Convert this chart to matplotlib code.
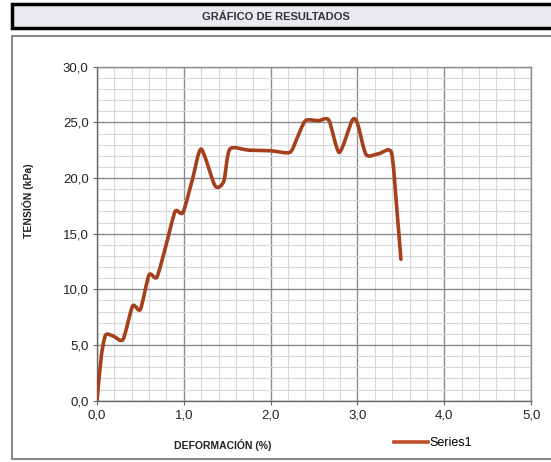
import numpy as np
import matplotlib.pyplot as plt
from matplotlib.path import Path
from matplotlib.patches import PathPatch, Rectangle
from matplotlib.lines import Line2D
from matplotlib.ticker import MultipleLocator, FuncFormatter

plt.rcParams['font.family'] = ['Liberation Sans', 'DejaVu Sans']

# ensayo: deformacion (%) vs tension (kPa)
deformacion = [0.00, 0.05, 0.10, 0.19, 0.30, 0.41, 0.50, 0.60, 0.69, 0.80, 0.90,
               0.99, 1.10, 1.20, 1.36, 1.46, 1.53, 1.75, 2.00, 2.22, 2.30, 2.40,
               2.55, 2.67, 2.79, 2.94, 3.00, 3.10, 3.25, 3.39, 3.45, 3.50]
tension = [0.0, 4.0, 5.9, 5.8, 5.5, 8.5, 8.2, 11.3, 11.1, 14.1, 17.0,
           16.9, 19.9, 22.6, 19.3, 19.7, 22.6, 22.5, 22.45, 22.3, 23.5, 25.15,
           25.15, 25.2, 22.3, 25.2, 24.9, 22.1, 22.2, 22.3, 17.5, 12.7]
serie = 'Series1'
titulo = 'GRÁFICO DE RESULTADOS'
color_linea = '#A5401C'


def smooth_path(xs, ys, k=0.12):
    # curva suavizada (Bezier cubica a partir de los puntos)
    p = np.column_stack([xs, ys]).astype(float)
    n = len(p)
    verts = [p[0]]
    codes = [Path.MOVETO]
    for i in range(n - 1):
        p0 = p[i - 1] if i > 0 else p[i]
        p3 = p[i + 2] if i + 2 < n else p[i + 1]
        c1 = p[i] + (p[i + 1] - p0) * k
        c2 = p[i + 1] - (p3 - p[i]) * k
        verts += [c1, c2, p[i + 1]]
        codes += [Path.CURVE4] * 3
    return Path(verts, codes)


fig = plt.figure(figsize=(5.51, 4.62), dpi=100)

# marco del titulo
fig.patches.append(Rectangle((0.022, 0.939), 1.0, 0.052, transform=fig.transFigure,
                             facecolor='#E9E9EF', edgecolor='black', linewidth=2.5,
                             clip_on=False, zorder=-2))
fig.text(0.50, 0.963, titulo, ha='center', va='center', fontsize=8,
         fontweight='bold', color='#333333')

# marco del area del grafico
fig.patches.append(Rectangle((0.022, 0.0065), 1.0, 0.915, transform=fig.transFigure,
                             facecolor='white', edgecolor='#8A8A8A', linewidth=1.5,
                             clip_on=False, zorder=-2))

ax = fig.add_axes([0.176, 0.1327, 0.788, 0.7229])
ax.set_xlim(0, 5)
ax.set_ylim(0, 30)
ax.xaxis.set_major_locator(MultipleLocator(1.0))
ax.xaxis.set_minor_locator(MultipleLocator(0.2))
ax.yaxis.set_major_locator(MultipleLocator(5.0))
ax.yaxis.set_minor_locator(MultipleLocator(1.0))
fmt = FuncFormatter(lambda v, pos: f'{v:.1f}'.replace('.', ','))
ax.xaxis.set_major_formatter(fmt)
ax.yaxis.set_major_formatter(fmt)

ax.grid(which='major', color='#8C8C8C', linewidth=1.0)
ax.grid(which='minor', color='#D8D8D8', linewidth=0.8)
ax.set_axisbelow(True)
for s in ax.spines.values():
    s.set_color('#8C8C8C')
    s.set_linewidth(1.0)
ax.spines['left'].set_color('#666666')
ax.spines['bottom'].set_color('#666666')
ax.tick_params(which='major', length=3, color='#666666', labelsize=9.5,
               labelcolor='#222222', pad=3)
ax.tick_params(which='minor', length=0)

ax.add_patch(PathPatch(smooth_path(deformacion, tension), facecolor='none',
                       edgecolor=color_linea, linewidth=2.6, capstyle='round',
                       joinstyle='round', zorder=3))

ax.set_xlabel('DEFORMACIÓN (%)', fontsize=7.5, fontweight='bold', color='#222222')
ax.xaxis.set_label_coords(0.29, -0.115)
ax.set_ylabel('TENSIÓN (kPa)', fontsize=7.5, fontweight='bold', color='#222222')
ax.yaxis.set_label_coords(-0.145, 0.60)

handle = Line2D([], [], color='#C0502A', linewidth=2.6)
fig.legend([handle], [serie], loc='center left', bbox_to_anchor=(0.715, 0.041),
           frameon=False, fontsize=9, handlelength=2.7, handletextpad=0.15,
           borderaxespad=0, borderpad=0)

fig.savefig('out.png', dpi=100)
